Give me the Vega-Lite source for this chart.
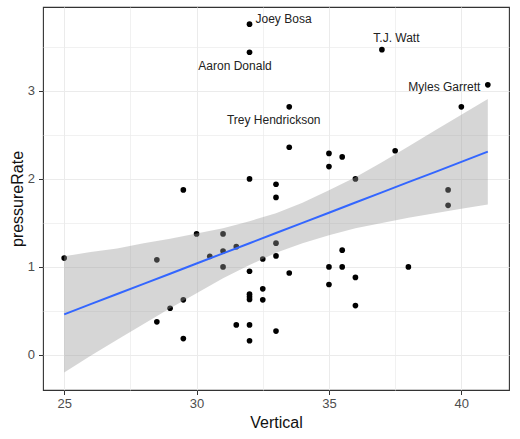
{
  "$schema": "https://vega.github.io/schema/vega-lite/v6.json",
  "width": 466,
  "height": 383,
  "autosize": "none",
  "padding": {"left": 43, "top": 7, "right": 11, "bottom": 49},
  "background": "white",
  "config": {
    "font": "Liberation Sans",
    "view": {"stroke": "#333333", "strokeWidth": 1.1},
    "axis": {
      "domain": false,
      "grid": true,
      "gridColor": "#EBEBEB",
      "gridWidth": 1,
      "tickColor": "#333333",
      "tickSize": 4.5,
      "tickWidth": 1,
      "labelColor": "#4D4D4D",
      "labelFont": "Liberation Sans",
      "labelFontSize": 13,
      "labelPadding": 3,
      "titleFont": "Liberation Sans",
      "titleFontSize": 16,
      "titleFontWeight": "normal",
      "titleColor": "#111111"
    }
  },
  "datasets": {
    "players": [
      {"Vertical": 25, "pressureRate": 1.10, "name": ""},
      {"Vertical": 32, "pressureRate": 3.76, "name": "Joey Bosa"},
      {"Vertical": 32, "pressureRate": 3.44, "name": "Aaron Donald"},
      {"Vertical": 37, "pressureRate": 3.47, "name": "T.J. Watt"},
      {"Vertical": 41, "pressureRate": 3.07, "name": "Myles Garrett"},
      {"Vertical": 40, "pressureRate": 2.82, "name": ""},
      {"Vertical": 33.5, "pressureRate": 2.82, "name": "Trey Hendrickson"},
      {"Vertical": 33.5, "pressureRate": 2.36, "name": ""},
      {"Vertical": 35, "pressureRate": 2.29, "name": ""},
      {"Vertical": 35.5, "pressureRate": 2.25, "name": ""},
      {"Vertical": 35, "pressureRate": 2.14, "name": ""},
      {"Vertical": 37.5, "pressureRate": 2.32, "name": ""},
      {"Vertical": 36, "pressureRate": 2.00, "name": ""},
      {"Vertical": 33, "pressureRate": 1.94, "name": ""},
      {"Vertical": 33, "pressureRate": 1.79, "name": ""},
      {"Vertical": 39.5, "pressureRate": 1.875, "name": ""},
      {"Vertical": 39.5, "pressureRate": 1.70, "name": ""},
      {"Vertical": 32, "pressureRate": 2.00, "name": ""},
      {"Vertical": 29.5, "pressureRate": 1.875, "name": ""},
      {"Vertical": 28.5, "pressureRate": 1.08, "name": ""},
      {"Vertical": 30, "pressureRate": 1.375, "name": ""},
      {"Vertical": 31, "pressureRate": 1.375, "name": ""},
      {"Vertical": 31, "pressureRate": 1.18, "name": ""},
      {"Vertical": 30.5, "pressureRate": 1.12, "name": ""},
      {"Vertical": 31.5, "pressureRate": 1.23, "name": ""},
      {"Vertical": 31, "pressureRate": 1.00, "name": ""},
      {"Vertical": 33, "pressureRate": 1.27, "name": ""},
      {"Vertical": 33, "pressureRate": 1.125, "name": ""},
      {"Vertical": 32.5, "pressureRate": 1.09, "name": ""},
      {"Vertical": 32, "pressureRate": 0.95, "name": ""},
      {"Vertical": 32.5, "pressureRate": 0.75, "name": ""},
      {"Vertical": 32.5, "pressureRate": 0.625, "name": ""},
      {"Vertical": 32, "pressureRate": 0.69, "name": ""},
      {"Vertical": 32, "pressureRate": 0.66, "name": ""},
      {"Vertical": 32, "pressureRate": 0.63, "name": ""},
      {"Vertical": 29.5, "pressureRate": 0.625, "name": ""},
      {"Vertical": 29, "pressureRate": 0.53, "name": ""},
      {"Vertical": 28.5, "pressureRate": 0.375, "name": ""},
      {"Vertical": 29.5, "pressureRate": 0.185, "name": ""},
      {"Vertical": 31.5, "pressureRate": 0.34, "name": ""},
      {"Vertical": 32, "pressureRate": 0.34, "name": ""},
      {"Vertical": 32, "pressureRate": 0.16, "name": ""},
      {"Vertical": 33, "pressureRate": 0.27, "name": ""},
      {"Vertical": 33.5, "pressureRate": 0.93, "name": ""},
      {"Vertical": 35.5, "pressureRate": 1.19, "name": ""},
      {"Vertical": 35, "pressureRate": 1.00, "name": ""},
      {"Vertical": 35.5, "pressureRate": 1.00, "name": ""},
      {"Vertical": 35, "pressureRate": 0.80, "name": ""},
      {"Vertical": 36, "pressureRate": 0.88, "name": ""},
      {"Vertical": 36, "pressureRate": 0.56, "name": ""},
      {"Vertical": 38, "pressureRate": 1.00, "name": ""}
    ],
    "smooth": [
      {"Vertical": 25, "fit": 0.460, "lo": -0.20, "hi": 1.12},
      {"Vertical": 26, "fit": 0.576, "lo": -0.01, "hi": 1.17},
      {"Vertical": 27, "fit": 0.691, "lo": 0.17, "hi": 1.21},
      {"Vertical": 28, "fit": 0.807, "lo": 0.35, "hi": 1.27},
      {"Vertical": 29, "fit": 0.922, "lo": 0.53, "hi": 1.32},
      {"Vertical": 30, "fit": 1.038, "lo": 0.70, "hi": 1.38},
      {"Vertical": 31, "fit": 1.154, "lo": 0.87, "hi": 1.44},
      {"Vertical": 32, "fit": 1.269, "lo": 1.02, "hi": 1.52},
      {"Vertical": 33, "fit": 1.385, "lo": 1.16, "hi": 1.61},
      {"Vertical": 34, "fit": 1.500, "lo": 1.27, "hi": 1.73},
      {"Vertical": 35, "fit": 1.616, "lo": 1.36, "hi": 1.87},
      {"Vertical": 36, "fit": 1.732, "lo": 1.44, "hi": 2.02},
      {"Vertical": 37, "fit": 1.847, "lo": 1.50, "hi": 2.19},
      {"Vertical": 38, "fit": 1.963, "lo": 1.56, "hi": 2.37},
      {"Vertical": 39, "fit": 2.078, "lo": 1.61, "hi": 2.55},
      {"Vertical": 40, "fit": 2.194, "lo": 1.66, "hi": 2.73},
      {"Vertical": 41, "fit": 2.310, "lo": 1.71, "hi": 2.91}
    ]
  },
  "layer": [
    {
      "data": {"name": "players"},
      "mark": {"type": "circle", "color": "#000000", "opacity": 1, "size": 32},
      "encoding": {
        "x": {
          "field": "Vertical", "type": "quantitative", "title": "Vertical",
          "scale": {"domain": [24.2, 41.8], "nice": false, "zero": false},
          "axis": {
            "values": [25, 27.5, 30, 32.5, 35, 37.5, 40],
            "labelExpr": "datum.value % 5 === 0 ? format(datum.value, 'd') : ''",
            "tickOpacity": {"condition": {"test": "datum.value % 5 !== 0", "value": 0}, "value": 1},
            "gridWidth": {"condition": {"test": "datum.value % 5 !== 0", "value": 0.7}, "value": 1},
            "titlePadding": 4
          }
        },
        "y": {
          "field": "pressureRate", "type": "quantitative", "title": "pressureRate",
          "scale": {"domain": [-0.4, 3.955], "nice": false, "zero": false},
          "axis": {
            "values": [0, 0.5, 1, 1.5, 2, 2.5, 3, 3.5],
            "labelExpr": "datum.value % 1 === 0 ? format(datum.value, 'd') : ''",
            "tickOpacity": {"condition": {"test": "datum.value % 1 !== 0", "value": 0}, "value": 1},
            "gridWidth": {"condition": {"test": "datum.value % 1 !== 0", "value": 0.7}, "value": 1},
            "labelPadding": 4,
            "titlePadding": 2
          }
        }
      }
    },
    {
      "data": {"name": "smooth"},
      "mark": {"type": "area", "color": "#999999", "opacity": 0.4},
      "encoding": {
        "x": {"field": "Vertical", "type": "quantitative", "title": "Vertical"},
        "y": {"field": "lo", "type": "quantitative", "title": "pressureRate"},
        "y2": {"field": "hi"}
      }
    },
    {
      "data": {"name": "smooth"},
      "mark": {"type": "line", "color": "#3366FF", "strokeWidth": 2},
      "encoding": {
        "x": {"field": "Vertical", "type": "quantitative", "title": "Vertical"},
        "y": {"field": "fit", "type": "quantitative", "title": "pressureRate"}
      }
    },
    {
      "data": {"name": "players"},
      "transform": [{"filter": "datum.name === 'Joey Bosa'"}],
      "mark": {"type": "text", "fontSize": 12, "color": "#222222", "align": "left", "baseline": "middle", "dx": 6, "dy": -5},
      "encoding": {
        "x": {"field": "Vertical", "type": "quantitative"},
        "y": {"field": "pressureRate", "type": "quantitative"},
        "text": {"field": "name"}
      }
    },
    {
      "data": {"name": "players"},
      "transform": [{"filter": "datum.name === 'Aaron Donald'"}],
      "mark": {"type": "text", "fontSize": 12, "color": "#222222", "align": "center", "baseline": "middle", "dx": -14.5, "dy": 13.5},
      "encoding": {
        "x": {"field": "Vertical", "type": "quantitative"},
        "y": {"field": "pressureRate", "type": "quantitative"},
        "text": {"field": "name"}
      }
    },
    {
      "data": {"name": "players"},
      "transform": [{"filter": "datum.name === 'T.J. Watt'"}],
      "mark": {"type": "text", "fontSize": 12, "color": "#222222", "align": "center", "baseline": "middle", "dx": 14.5, "dy": -11.5},
      "encoding": {
        "x": {"field": "Vertical", "type": "quantitative"},
        "y": {"field": "pressureRate", "type": "quantitative"},
        "text": {"field": "name"}
      }
    },
    {
      "data": {"name": "players"},
      "transform": [{"filter": "datum.name === 'Myles Garrett'"}],
      "mark": {"type": "text", "fontSize": 12, "color": "#222222", "align": "right", "baseline": "middle", "dx": -7.5, "dy": 2.5},
      "encoding": {
        "x": {"field": "Vertical", "type": "quantitative"},
        "y": {"field": "pressureRate", "type": "quantitative"},
        "text": {"field": "name"}
      }
    },
    {
      "data": {"name": "players"},
      "transform": [{"filter": "datum.name === 'Trey Hendrickson'"}],
      "mark": {"type": "text", "fontSize": 12, "color": "#222222", "align": "center", "baseline": "middle", "dx": -15.5, "dy": 13.5},
      "encoding": {
        "x": {"field": "Vertical", "type": "quantitative"},
        "y": {"field": "pressureRate", "type": "quantitative"},
        "text": {"field": "name"}
      }
    }
  ]
}
